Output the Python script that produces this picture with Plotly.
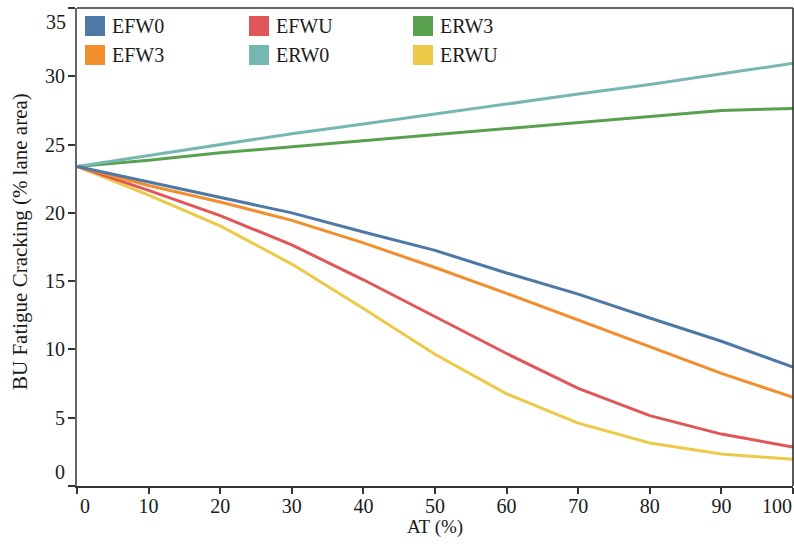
import plotly.graph_objects as go

at = [0, 10, 20, 30, 40, 50, 60, 70, 80, 90, 100]
efw0 = [23.4, 22.25, 21.15, 20.0, 18.6, 17.25, 15.6, 14.05, 12.3, 10.6, 8.7]
efw3 = [23.4, 22.0, 20.8, 19.45, 17.8, 16.0, 14.1, 12.15, 10.15, 8.25, 6.5]
efwu = [23.4, 21.65, 19.8, 17.65, 15.1, 12.4, 9.7, 7.15, 5.15, 3.8, 2.85]
erw0 = [23.4, 24.2, 25.0, 25.8, 26.5, 27.25, 27.95, 28.7, 29.4, 30.2, 30.95]
erw3 = [23.4, 23.85, 24.4, 24.85, 25.3, 25.75, 26.2, 26.65, 27.1, 27.5, 27.65]
erwu = [23.4, 21.3, 19.05, 16.25, 13.0, 9.65, 6.75, 4.6, 3.15, 2.35, 1.95]

names = ["EFW0", "EFW3", "EFWU", "ERW0", "ERW3", "ERWU"]
series = [efw0, efw3, efwu, erw0, erw3, erwu]
colors = ["#4e79a7", "#f28e2b", "#e15759", "#76b7b2", "#59a14f", "#edc948"]

x_ticks = [0, 10, 20, 30, 40, 50, 60, 70, 80, 90, 100]
y_ticks = [0, 5, 10, 15, 20, 25, 30, 35]
x_title = "AT (%)"
y_title = "BU Fatigue Cracking (% lane area)"

FONT = "Liberation Serif"
TXT = "#1a1a1a"
W, H = 794, 546
L, R, T, B = 77, 1, 8, 60
PW, PH = W - L - R, H - T - B


def px(x):
    return (x - L) / PW


def py(y):
    return (H - B - y) / PH


fig = go.Figure()
draw_order = [5, 2, 1, 4, 3, 0]
for i in draw_order:
    fig.add_trace(go.Scatter(x=at, y=series[i], mode="lines", name=names[i],
                             line=dict(color=colors[i], width=3),
                             showlegend=False, cliponaxis=False))

xt_text = ["" if v in (0, 100) else str(v) for v in x_ticks]
yt_text = ["" if v in (0, 35) else str(v) for v in y_ticks]

fig.update_layout(
    width=W, height=H,
    margin=dict(l=L, r=R, t=T, b=B),
    plot_bgcolor="white", paper_bgcolor="white",
    font=dict(family=FONT, size=20, color=TXT),
    showlegend=False,
    xaxis=dict(range=[0, 100], tickvals=x_ticks, ticktext=xt_text,
               showgrid=False, zeroline=False, showline=True,
               linecolor="#333", linewidth=2, ticks="outside", ticklen=6,
               tickcolor="#333", tickwidth=1.5, ticklabelstandoff=-5,
               tickfont=dict(family=FONT, size=20, color=TXT)),
    yaxis=dict(range=[0, 35], tickvals=y_ticks, ticktext=yt_text,
               showgrid=False, zeroline=False, showline=True,
               linecolor="#666", linewidth=2, ticks="outside", ticklen=7,
               tickcolor="#333", tickwidth=1.5, ticklabelstandoff=-1,
               tickfont=dict(family=FONT, size=20, color=TXT)),
)

# axis titles
fig.add_annotation(text=x_title, xref="paper", yref="paper", x=px(435), y=py(527),
                   showarrow=False, xanchor="center", yanchor="middle",
                   font=dict(family=FONT, size=19, color=TXT))
fig.add_annotation(text=y_title, xref="paper", yref="paper", x=px(20), y=py(242),
                   showarrow=False, xanchor="center", yanchor="middle", textangle=-90,
                   font=dict(family=FONT, size=21, color=TXT))

# top and right borders
fig.add_shape(type="line", xref="paper", yref="paper", x0=0, x1=1, y0=1, y1=1,
              line=dict(color="#333", width=1.5))
fig.add_shape(type="line", xref="paper", yref="paper", x0=1, x1=1, y0=0, y1=1,
              line=dict(color="#222", width=1.5))

# shifted end tick labels
for txt, xx, yy in [("0", 85, 506), ("100", 777, 506)]:
    fig.add_annotation(text=txt, xref="paper", yref="paper", x=px(xx), y=py(yy),
                       showarrow=False, xanchor="center", yanchor="middle",
                       font=dict(family=FONT, size=20, color=TXT))
for txt, xx, yy in [("35", 68, 22), ("0", 67, 472)]:
    fig.add_annotation(text=txt, xref="paper", yref="paper", x=px(xx), y=py(yy),
                       showarrow=False, xanchor="right", yanchor="middle",
                       font=dict(family=FONT, size=20, color=TXT))

# legend (3 columns x 2 rows, square swatches)
legend_order = [0, 2, 4, 1, 3, 5]
col_x = [85, 249, 413]
row_y = [26, 55]
for k, i in enumerate(legend_order):
    c, r = k % 3, k // 3
    x0, yc = col_x[c], row_y[r]
    fig.add_shape(type="rect", xref="paper", yref="paper",
                  x0=px(x0), x1=px(x0 + 20), y0=py(yc - 10), y1=py(yc + 10),
                  fillcolor=colors[i], line=dict(width=0))
    fig.add_annotation(text=names[i], xref="paper", yref="paper",
                       x=px(x0 + 25), y=py(yc), showarrow=False,
                       xanchor="left", yanchor="middle",
                       font=dict(family=FONT, size=20, color=TXT))

fig.write_html("out.html")
